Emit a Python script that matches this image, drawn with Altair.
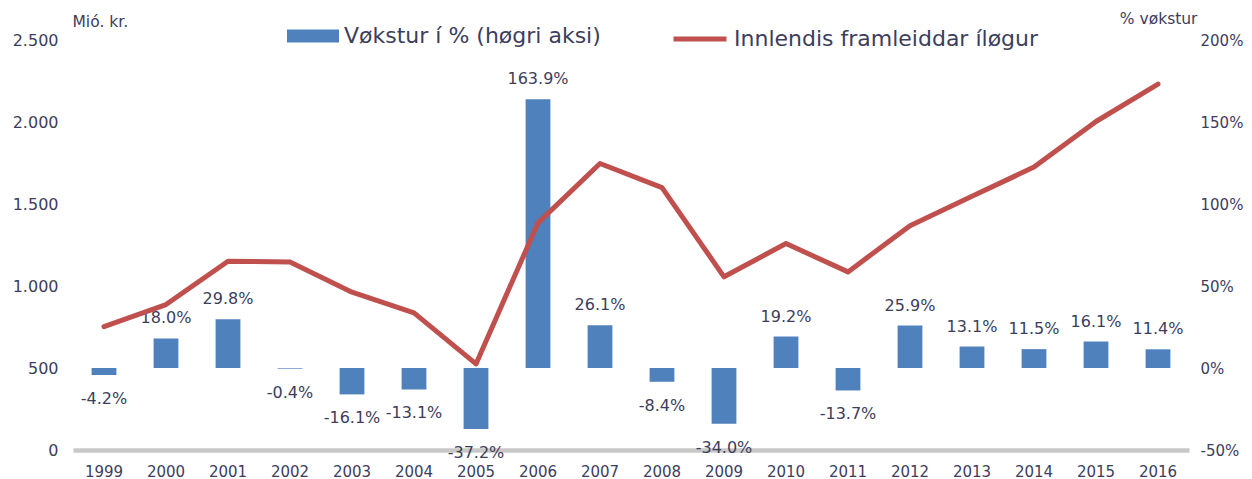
import altair as alt
import pandas as pd

# ---- data ----
years = [str(y) for y in range(1999, 2017)]
growth_pct = [-4.2, 18.0, 29.8, -0.4, -16.1, -13.1, -37.2, 163.9, 26.1, -8.4,
              -34.0, 19.2, -13.7, 25.9, 13.1, 11.5, 16.1, 11.4]
investment = [752, 887, 1151, 1147, 962, 836, 525, 1385, 1747, 1600,
              1056, 1259, 1086, 1368, 1547, 1725, 2003, 2231]
left_ticks = [0, 500, 1000, 1500, 2000, 2500]
right_ticks = [-50, 0, 50, 100, 150, 200]
bar_series = "Vøkstur í % (høgri aksi)"
line_series = "Innlendis framleiddar íløgur"

df = pd.DataFrame({"year": years, "growth": growth_pct, "investment": investment})

FONT = "DejaVu Sans"
TEXT = "#3d3d5c"
BLUE = "#4f81bd"
RED = "#c0504d"

x = alt.X(
    "year:N", sort=years, title=None,
    scale=alt.Scale(paddingInner=0.6, paddingOuter=0.3),
    axis=alt.Axis(labelAngle=0, labelFontSize=15, labelFont=FONT, labelColor=TEXT,
                  ticks=False, domainColor="#c8c8c8", domainWidth=4.5, labelPadding=14),
)

base = alt.Chart(df)

bars = base.transform_calculate(series=f"'{bar_series}'").mark_bar(fill=BLUE).encode(
    x=x,
    y=alt.Y(
        "growth:Q",
        scale=alt.Scale(domain=[-50, 200], nice=False, zero=True),
        axis=alt.Axis(orient="right", values=right_ticks, labelExpr="datum.value + '%'",
                      grid=False, ticks=False, domain=False, labelFontSize=15, labelFont=FONT,
                      labelColor=TEXT, labelPadding=11,
                      title="% vøkstur", titleAngle=0, titleAlign="right", titleBaseline="alphabetic",
                      titleX=8, titleY=-17, titleFontSize=15.5, titleFontWeight="normal",
                      titleFont=FONT, titleColor=TEXT),
    ),
    fill=alt.Fill(
        "series:N",
        scale=alt.Scale(domain=[bar_series], range=[BLUE]),
        legend=alt.Legend(title=None, orient="none", legendX=214, legendY=-30, padding=0,
                          symbolType="M-1,-0.25H1V0.25H-1Z", symbolSize=2704,
                          symbolStrokeWidth=0, labelFontSize=22, labelFont=FONT,
                          labelColor=TEXT, labelOffset=5, labelLimit=600),
    ),
)

labels = base.transform_calculate(
    label="(datum.growth < 0 ? '-' : '') + format(abs(datum.growth), '.1f') + '%'"
)
pos_labels = labels.transform_filter("datum.growth >= 0").mark_text(
    dy=-15, baseline="alphabetic", fontSize=16, font=FONT, color=TEXT
).encode(x=x, y=alt.Y("growth:Q"), text="label:N")
neg_labels = labels.transform_filter("datum.growth < 0").mark_text(
    dy=29, baseline="alphabetic", fontSize=16, font=FONT, color=TEXT
).encode(x=x, y=alt.Y("growth:Q"), text="label:N")

line = base.transform_calculate(series=f"'{line_series}'").mark_line(
    strokeWidth=5, strokeCap="round", strokeJoin="round"
).encode(
    x=x,
    y=alt.Y(
        "investment:Q",
        scale=alt.Scale(domain=[0, 2500], nice=False),
        axis=alt.Axis(orient="left", values=left_ticks,
                      labelExpr="replace(format(datum.value, ','), ',', '.')",
                      grid=False, ticks=False, domain=False, labelFontSize=16, labelFont=FONT,
                      labelColor=TEXT, labelPadding=15,
                      title="Mió. kr.", titleAngle=0, titleAlign="left", titleBaseline="alphabetic",
                      titleX=-1, titleY=-14, titleFontSize=15.5, titleFontWeight="normal",
                      titleFont=FONT, titleColor=TEXT),
    ),
    stroke=alt.Stroke(
        "series:N",
        scale=alt.Scale(domain=[line_series], range=[RED]),
        legend=alt.Legend(title=None, orient="none", legendX=598, legendY=-30, padding=0,
                          symbolType="stroke", symbolSize=2809, symbolStrokeWidth=5,
                          labelFontSize=22, labelFont=FONT, labelColor=TEXT,
                          labelOffset=5, labelLimit=600),
    ),
)

chart = (
    alt.layer(alt.layer(bars, pos_labels, neg_labels), line)
    .resolve_scale(y="independent")
    .properties(
        width=1116, height=410,
        background="white",
        autosize=alt.AutoSizeParams(type="none"),
        padding={"left": 65, "top": 32, "right": 55, "bottom": 31},
    )
    .configure_view(stroke=None, strokeWidth=0)
)

chart.save("out.html", embed_options={"renderer": "svg", "actions": False})
